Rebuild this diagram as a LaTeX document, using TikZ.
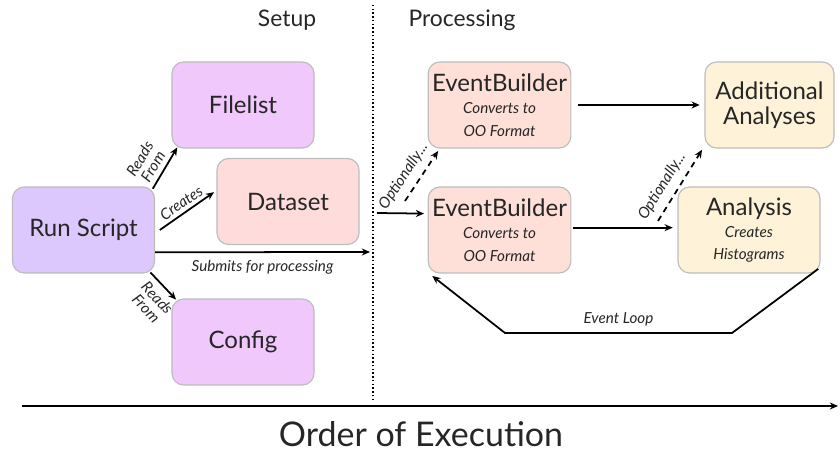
\documentclass[tikz,border=0pt]{standalone}
\usepackage{fontspec}
\setmainfont{Lato}
\usepackage{tikz}
\usetikzlibrary{arrows.meta}

\definecolor{runcol}{HTML}{DCC8FC}
\definecolor{filecol}{HTML}{F0C8FC}
\definecolor{datacol}{HTML}{FEDCDC}
\definecolor{ebcol}{HTML}{FEE0D8}
\definecolor{anacol}{HTML}{FEF3D8}
\definecolor{edgecol}{HTML}{BDBDBD}

\newcommand{\subtxt}[1]{{\fontsize{13}{15}\selectfont\itshape #1}}

\begin{document}
\begin{tikzpicture}[x=0.03cm, y=-0.03cm, >={Stealth[length=7pt,width=6pt]}, line width=1.5pt,
	box/.style={draw=edgecol, line width=1pt, rounded corners=10pt, minimum width=4.26cm, minimum height=2.58cm, align=center, text=black!85, font=\fontsize{20.5}{23}\selectfont},
	note/.style={text=black!85, font=\fontsize{13}{13}\selectfont\itshape, align=center, inner sep=1pt},
	head/.style={text=black!85, font=\fontsize{19.5}{22}\selectfont}]
	\useasboundingbox (0,0) rectangle (840,452);
	
	% 标题
	\node[head] (setup) at (287,20) {Setup};
	\node[head] (proc) at (462,20) {Processing};
	
	% 准备阶段
	\node[box, fill=runcol] (run) at (83.5,230) {Run Script};
	\node[box, fill=filecol] (filelist) at (243,105) {Filelist};
	\node[box, fill=datacol] (dataset) at (288,201.5) {Dataset};
	\node[box, fill=filecol] (config) at (243,342) {Config};
	
	% 处理阶段
	\node[box, fill=ebcol] (eb1) at (499.5,105) {EventBuilder\\[-4pt]\subtxt{Converts to}\\[-4pt]\subtxt{OO Format}};
	\node[box, fill=ebcol] (eb2) at (499.5,230) {EventBuilder\\[-4pt]\subtxt{Converts to}\\[-4pt]\subtxt{OO Format}};
	\node[box, fill=anacol, minimum width=3.87cm] (addl) at (769.5,105) {Additional\\[-2pt]Analyses};
	\node[box, fill=anacol] (ana) at (749,230) {Analysis\\[-4pt]\subtxt{Creates}\\[-4pt]\subtxt{Histograms}};
	
	% 分隔线与时间轴
	\coordinate (sepTop) at (373,5);
	\coordinate (sepBot) at (373,402);
	\draw[line width=1.2pt, dotted] (sepTop) -- (sepBot);
	\coordinate (axL) at (22,406);
	\coordinate (axR) at (838,406);
	\draw[->] (axL) -- (axR);
	\node[text=black!85, font=\fontsize{29}{32}\selectfont] (order) at (421,434) {Order of Execution};
	
	% 准备阶段的箭头
	\draw[->] ([xshift=-2pt,yshift=-2pt]run.north east) -- ([xshift=5pt,yshift=1pt]filelist.south west)
		node[note, pos=0.4, sloped, above=3pt] {Reads\\From};
	\draw[->] ([xshift=4pt]run.east) -- ([yshift=8pt,xshift=-2pt]dataset.west)
		node[note, midway, sloped, above=2pt] {Creates};
	\coordinate (sub) at (370,252);
	\draw[->] ([yshift=-19pt]run.east) -- (sub)
		node[note, midway, below=5pt] {Submits for processing};
	\draw[->] ([xshift=-4pt,yshift=1pt]run.south east) -- ([xshift=4pt,yshift=-1pt]config.north west)
		node[note, pos=0.62, sloped, below=4pt] {Reads\\From};
	
	% 处理阶段的箭头
	\coordinate (in) at (377,213);
	\draw[->] (in) -- ([xshift=-3pt,yshift=14pt]eb2.west);
	\coordinate (opt1) at (405,201);
	\draw[->, dashed, dash pattern=on 5pt off 4pt] (opt1) -- ([xshift=9pt,yshift=-2pt]eb1.south west)
		node[note, pos=0.33, sloped, above=5pt] {Optionally...};
	\draw[->] ([xshift=6pt]eb1.east) -- ([xshift=-4pt]addl.west);
	\draw[->] ([xshift=1pt,yshift=2pt]eb2.east) -- ([xshift=-4pt,yshift=2pt]ana.west);
	\coordinate (opt2) at (658,221);
	\draw[->, dashed, dash pattern=on 5pt off 4pt] (opt2) -- ([xshift=-2pt,yshift=-1pt]addl.south west)
		node[note, pos=0.38, sloped, above=5pt] {Optionally...};
	
	% 事件循环
	\coordinate (loopR) at (732,333);
	\coordinate (loopL) at (505,333);
	\draw[->] ([xshift=-2pt,yshift=4pt]ana.south east) -- (loopR) -- node[note, above=4pt] {Event Loop} (loopL) -- ([xshift=4pt,yshift=-2pt]eb2.south west);
\end{tikzpicture}
\end{document}
